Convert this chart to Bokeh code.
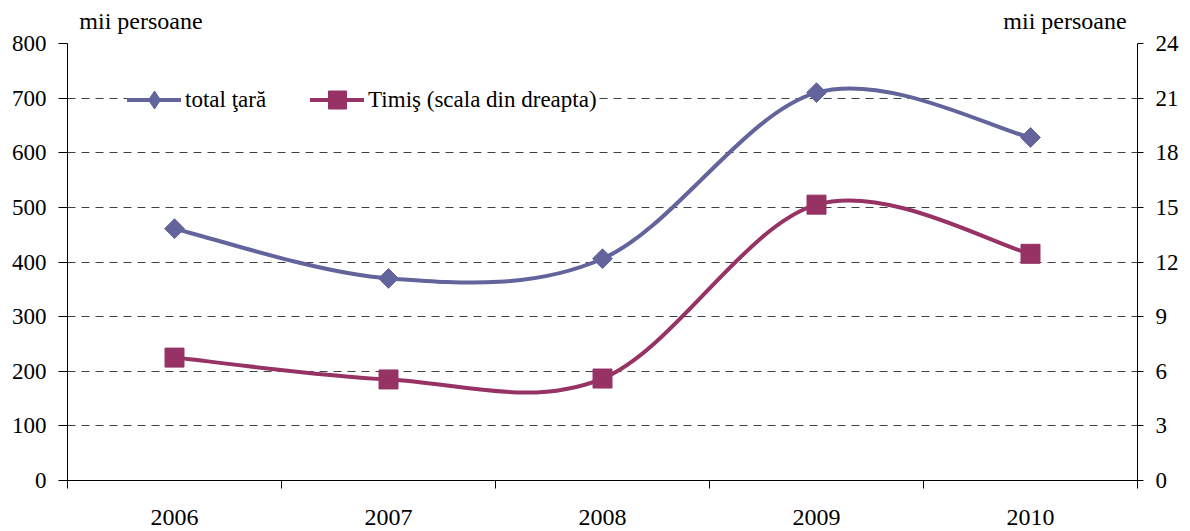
import numpy as np
from bokeh.plotting import figure
from bokeh.models import Range1d, LinearAxis, FixedTicker, Legend, LegendItem
from bokeh.embed import file_html
from bokeh.resources import INLINE

# ---- data ----
years = ["2006", "2007", "2008", "2009", "2010"]
total_tara = [461, 370, 406, 710, 628]          # left axis, mii persoane
timis = [6.75, 5.55, 5.6, 15.15, 12.45]         # right axis, mii persoane
left_ticks = [0, 100, 200, 300, 400, 500, 600, 700, 800]
right_ticks = [0, 3, 6, 9, 12, 15, 18, 21, 24]
unit_label = "mii persoane"

FONT = "Liberation Serif"
C_TOTAL = "#62649B"
C_TIMIS = "#963264"

W, H = 1188, 530
BL, BR, BT, BB = 67, 51, 43, 50
FRAME_W = W - BL - BR

xs = [i + 1 for i in range(len(years))]
bounds = [v - 0.5 for v in xs] + [xs[-1] + 0.5]


def smooth(xv, yv):
    """Catmull-Rom -> cubic Bezier segments (Excel-style smoothed line)."""
    xv = np.asarray(xv, float)
    yv = np.asarray(yv, float)
    n = len(xv)
    px = np.concatenate([[xv[0]], xv, [xv[-1]]])
    py = np.concatenate([[yv[0]], yv, [yv[-1]]])
    P0x, P1x, P2x, P3x = px[0:n - 1], px[1:n], px[2:n + 1], px[3:n + 2]
    P0y, P1y, P2y, P3y = py[0:n - 1], py[1:n], py[2:n + 1], py[3:n + 2]
    return dict(
        x0=P1x, y0=P1y, x1=P2x, y1=P2y,
        cx0=P1x + (P2x - P0x) / 6.0, cy0=P1y + (P2y - P0y) / 6.0,
        cx1=P2x - (P3x - P1x) / 6.0, cy1=P2y - (P3y - P1y) / 6.0,
    )


p = figure(width=W, height=H,
           x_range=Range1d(bounds[0], bounds[-1]),
           y_range=Range1d(left_ticks[0], left_ticks[-1]),
           output_backend="svg", toolbar_location=None,
           min_border_left=BL, min_border_right=BR,
           min_border_top=BT, min_border_bottom=BB)
p.extra_y_ranges = {"right": Range1d(right_ticks[0], right_ticks[-1])}
p.extra_x_ranges = {"px": Range1d(0, FRAME_W)}
p.outline_line_color = None
p.background_fill_color = "white"

# grid
p.xgrid.visible = False
p.ygrid.ticker = FixedTicker(ticks=left_ticks[1:])
p.ygrid.grid_line_color = "#404040"
p.ygrid.grid_line_dash = "8 6"
p.ygrid.grid_line_width = 1

# x axis
xa = p.xaxis[0]
xa.ticker = FixedTicker(ticks=xs, minor_ticks=bounds)
xa.major_label_overrides = {x: y for x, y in zip(xs, years)}
xa.major_tick_line_color = None
xa.major_tick_out = 8
xa.major_tick_in = 0
xa.minor_tick_out = 8
xa.minor_tick_in = 0
xa.minor_tick_line_color = "black"
xa.axis_line_color = "black"
xa.major_label_standoff = 21
xa.major_label_text_font = FONT
xa.major_label_text_font_size = "24px"
xa.major_label_text_color = "black"

# left y axis
ya = p.yaxis[0]
ya.ticker = FixedTicker(ticks=left_ticks)
ya.major_tick_out = 9
ya.major_tick_in = 0
ya.minor_tick_line_color = None
ya.axis_line_color = "black"
ya.major_tick_line_color = "black"
ya.major_label_standoff = 12
ya.major_label_text_font = FONT
ya.major_label_text_font_size = "23px"
ya.major_label_text_color = "black"

# right y axis
ra = LinearAxis(y_range_name="right", ticker=FixedTicker(ticks=right_ticks))
ra.major_tick_out = 6
ra.major_tick_in = 0
ra.minor_tick_line_color = None
ra.axis_line_color = "black"
ra.major_tick_line_color = "black"
ra.major_label_standoff = 12
ra.major_label_text_font = FONT
ra.major_label_text_font_size = "23px"
ra.major_label_text_color = "black"
p.add_layout(ra, "right")

# unit labels above both y axes (an unlined axis on a pixel range)
unit_pos = [73.5, FRAME_W - 72.5]
ua = LinearAxis(x_range_name="px", ticker=FixedTicker(ticks=unit_pos, minor_ticks=[]))
ua.major_label_overrides = {u: unit_label for u in unit_pos}
ua.axis_line_color = None
ua.major_tick_line_color = None
ua.minor_tick_line_color = None
ua.major_tick_out = 0
ua.major_tick_in = 0
ua.major_label_standoff = 10
ua.major_label_text_font = FONT
ua.major_label_text_font_size = "24px"
ua.major_label_text_color = "black"
p.add_layout(ua, "above")

# series
b1 = p.bezier(**smooth(xs, total_tara), line_color=C_TOTAL, line_width=4, line_cap="round")
b2 = p.bezier(**smooth(xs, timis), line_color=C_TIMIS, line_width=4, line_cap="round",
              y_range_name="right")
m1 = p.scatter(xs, total_tara, marker="square", angle=np.pi / 4, size=14,
               fill_color=C_TOTAL, line_color=C_TOTAL)
m1_leg = p.scatter(xs, total_tara, marker="diamond", size=0,
                   fill_color=C_TOTAL, line_color=C_TOTAL)
m2 = p.scatter(xs, timis, marker="square", size=19, fill_color=C_TIMIS,
               line_color=C_TIMIS, y_range_name="right")

legend = Legend(items=[
    LegendItem(label="total ţară", renderers=[b1, m1_leg]),
    LegendItem(label="Timiş (scala din dreapta)", renderers=[b2, m2]),
], orientation="horizontal", location=(60, 358), margin=0, padding=4,
    glyph_width=54, glyph_height=45, label_standoff=4, spacing=44,
    label_text_font=FONT, label_text_font_size="23px", label_text_color="black",
    background_fill_color="white", background_fill_alpha=1.0,
    border_line_color=None)
p.add_layout(legend, "center")

open("out.html", "w").write(file_html(p, INLINE))
